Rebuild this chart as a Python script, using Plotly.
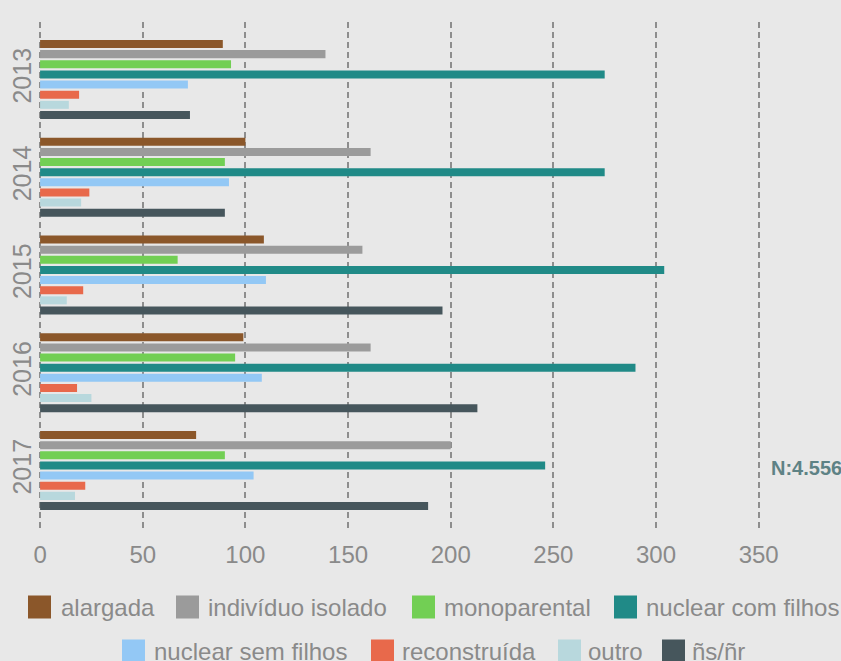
import plotly.graph_objects as go

years = ["2013", "2014", "2015", "2016", "2017"]
series_names = ["alargada", "indivíduo isolado", "monoparental", "nuclear com filhos",
                "nuclear sem filhos", "reconstruída", "outro", "ñs/ñr"]
colors = ["#8B572A", "#9B9B9B", "#72CF54", "#208A87",
          "#93C8F5", "#E8694B", "#B8D8DD", "#46565C"]

alargada = [89, 100, 109, 99, 76]
individuo_isolado = [139, 161, 157, 161, 200]
monoparental = [93, 90, 67, 95, 90]
nuclear_com_filhos = [275, 275, 304, 290, 246]
nuclear_sem_filhos = [72, 92, 110, 108, 104]
reconstruida = [19, 24, 21, 18, 22]
outro = [14, 20, 13, 25, 17]
ns_nr = [73, 90, 196, 213, 189]

series_values = [alargada, individuo_isolado, monoparental, nuclear_com_filhos,
                 nuclear_sem_filhos, reconstruida, outro, ns_nr]

x_ticks = [0, 50, 100, 150, 200, 250, 300, 350]
total_label = "N:4.556"

W, H = 841, 661
ML, MR, MT, MB = 37, 0, 22, 133
PW = W - ML - MR
PH = H - MT - MB
BG = "#E8E8E8"
TXT = "#8A8A8A"
FONT = "Liberation Sans, Arial, sans-serif"

fig = go.Figure()
for name, vals, col in zip(series_names, series_values, colors):
    fig.add_trace(go.Bar(
        y=years, x=vals, name=name, orientation="h",
        marker=dict(color=col, line=dict(width=0)),
        showlegend=False,
    ))

def px_x(p):
    return (p - ML) / PW

def px_y(p):
    return (H - MB - p) / PH

# manual legend (swatch left px, text left px, row center px)
legend_layout = [
    (28, 61, 607), (176, 208, 607), (412, 444, 607), (614, 646, 607),
    (122, 154, 651), (371, 402, 651), (558, 588, 651), (662, 692, 651),
]
shapes = []
annotations = []
for (sx, tx, cy), name, col in zip(legend_layout, series_names, colors):
    shapes.append(dict(
        type="rect", xref="paper", yref="paper",
        x0=px_x(sx), x1=px_x(sx + 23), y0=px_y(cy + 11.5), y1=px_y(cy - 11.5),
        fillcolor=col, line=dict(width=0), layer="above",
    ))
    annotations.append(dict(
        xref="paper", yref="paper", x=px_x(tx - 2), y=px_y(cy),
        xanchor="left", yanchor="middle", text=name, showarrow=False,
        font=dict(family=FONT, size=24, color=TXT),
    ))

annotations.append(dict(
    xref="paper", yref="paper", x=1.0, y=px_y(468), xshift=3,
    xanchor="right", yanchor="middle", text="<b>" + total_label + "</b>", showarrow=False,
    font=dict(family=FONT, size=20, color="#5E8285"),
))

fig.update_layout(
    width=W, height=H,
    margin=dict(l=ML, r=MR, t=MT, b=MB, pad=0),
    paper_bgcolor=BG, plot_bgcolor=BG,
    barmode="group", bargap=0.17, bargroupgap=0.21,
    font=dict(family=FONT, size=24, color=TXT),
    shapes=shapes, annotations=annotations,
    showlegend=False,
)
fig.update_xaxes(
    range=[-1.5, 390.1], tickvals=x_ticks, ticktext=[str(v) for v in x_ticks],
    showgrid=True, gridcolor="#8E8E8E", gridwidth=1.5, griddash="6px,4px",
    zeroline=False, showline=False, ticks="",
    tickfont=dict(family=FONT, size=24, color=TXT), ticklabelstandoff=10,
)
fig.update_yaxes(
    type="category", categoryorder="array", categoryarray=years,
    range=[4.588, -0.588], showgrid=False, zeroline=False, showline=False,
    ticks="", tickangle=-90,
    tickfont=dict(family=FONT, size=25, color=TXT), ticklabelstandoff=0,
)

fig.write_html(
    "out.html",
    config={"displayModeBar": False},
    post_script="document.body.style.margin='0';document.body.style.overflow='hidden';"
                "document.body.style.background='" + BG + "';",
)
